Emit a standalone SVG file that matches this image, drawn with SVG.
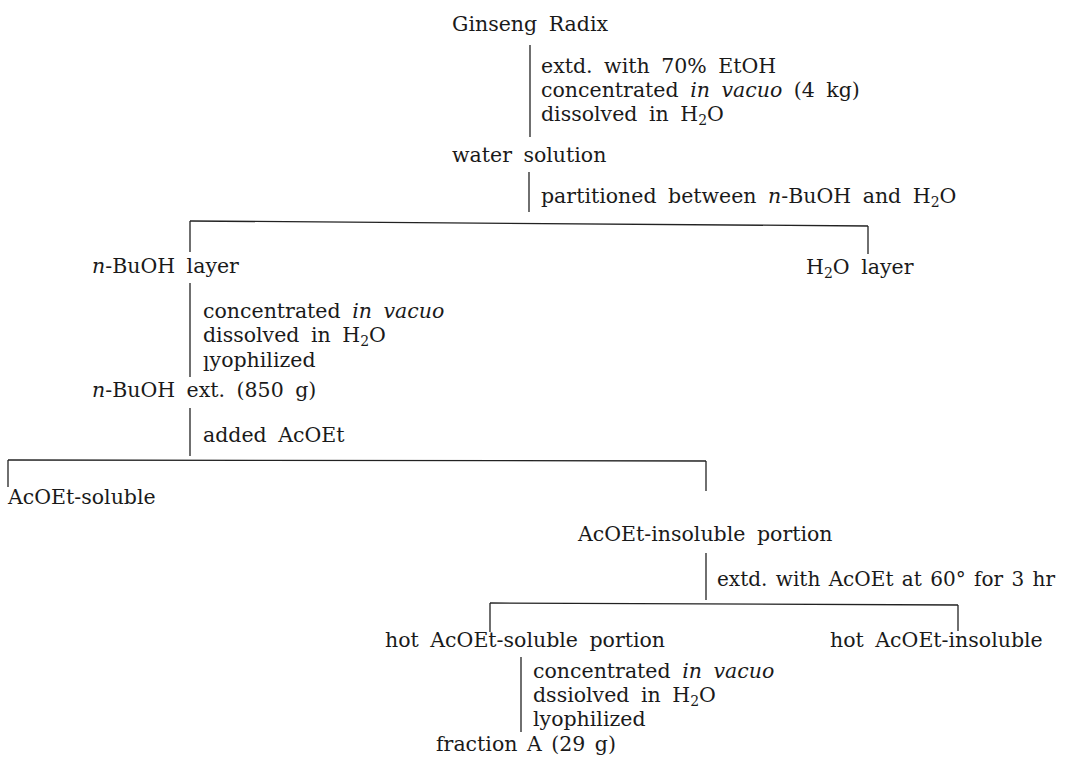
<svg xmlns="http://www.w3.org/2000/svg" width="1074" height="758" viewBox="0 0 1074 758">
<style>
text{font-family:"DejaVu Serif","Liberation Serif",serif;font-size:20.5px;fill:#1a1a1a;word-spacing:5px}
.i{font-style:italic}
.s{font-size:14px}
.c line{stroke:#222;stroke-width:1.3;fill:none}
</style>
<rect width="1074" height="758" fill="#fff"/>
<g class="c" id="connectors">
<line x1="530" y1="45" x2="530" y2="137"/>
<line x1="529" y1="172" x2="529" y2="212"/>
<line x1="190" y1="221" x2="868" y2="226"/>
<line x1="190" y1="221" x2="190" y2="252"/>
<line x1="868" y1="226" x2="868" y2="254"/>
<line x1="190" y1="283" x2="190" y2="377"/>
<line x1="190" y1="408" x2="190" y2="456"/>
<line x1="8" y1="460" x2="706" y2="461"/>
<line x1="8" y1="460" x2="8" y2="487"/>
<line x1="706" y1="461" x2="706" y2="491"/>
<line x1="706" y1="553" x2="706" y2="600"/>
<line x1="490" y1="603" x2="958" y2="605"/>
<line x1="490" y1="603" x2="490" y2="632"/>
<line x1="958" y1="605" x2="958" y2="631"/>
<line x1="521" y1="657" x2="521" y2="732"/>
</g>
<g id="n-ginseng"><text x="452" y="31">Ginseng Radix</text></g>
<g id="step1">
<text x="541" y="73">extd. with 70% EtOH</text>
<text x="541" y="97">concentrated <tspan class="i">in vacuo</tspan> (4 kg)</text>
<text x="541" y="121">dissolved in H<tspan class="s" dy="4">2</tspan><tspan dy="-4">O</tspan></text>
</g>
<g id="n-water"><text x="452" y="162">water solution</text></g>
<g id="step2"><text x="541" y="203">partitioned between <tspan class="i">n</tspan>-BuOH and H<tspan class="s" dy="4">2</tspan><tspan dy="-4">O</tspan></text></g>
<g id="n-buoh-layer"><text x="92" y="273"><tspan class="i">n</tspan>-BuOH layer</text></g>
<g id="n-h2o-layer"><text x="806" y="274">H<tspan class="s" dy="4">2</tspan><tspan dy="-4">O layer</tspan></text></g>
<g id="step3">
<text x="203" y="318">concentrated <tspan class="i">in vacuo</tspan></text>
<text x="203" y="342">dissolved in H<tspan class="s" dy="4">2</tspan><tspan dy="-4">O</tspan></text>
<text x="203" y="371">l<tspan dy="-4">yophilized</tspan></text>
</g>
<g id="n-buoh-ext"><text x="92" y="397"><tspan class="i">n</tspan>-BuOH ext. (850 g)</text></g>
<g id="step4"><text x="203" y="442">added AcOEt</text></g>
<g id="n-acoet-soluble"><text x="8" y="504">AcOEt-soluble</text></g>
<g id="n-acoet-insoluble"><text x="578" y="541">AcOEt-insoluble portion</text></g>
<g id="step5"><text x="717" y="586" style="word-spacing:2px" textLength="338" lengthAdjust="spacingAndGlyphs">extd. with AcOEt at 60° for 3 hr</text></g>
<g id="n-hot-soluble"><text x="385" y="647">hot AcOEt-soluble portion</text></g>
<g id="n-hot-insoluble"><text x="830" y="647">hot AcOEt-insoluble</text></g>
<g id="step6">
<text x="533" y="678">concentrated <tspan class="i">in vacuo</tspan></text>
<text x="533" y="702">dssiolved in H<tspan class="s" dy="4">2</tspan><tspan dy="-4">O</tspan></text>
<text x="533" y="726">lyophilized</text>
</g>
<g id="n-fraction-a"><text x="436" y="751" style="word-spacing:3px">fraction A (29 g)</text></g>
</svg>
